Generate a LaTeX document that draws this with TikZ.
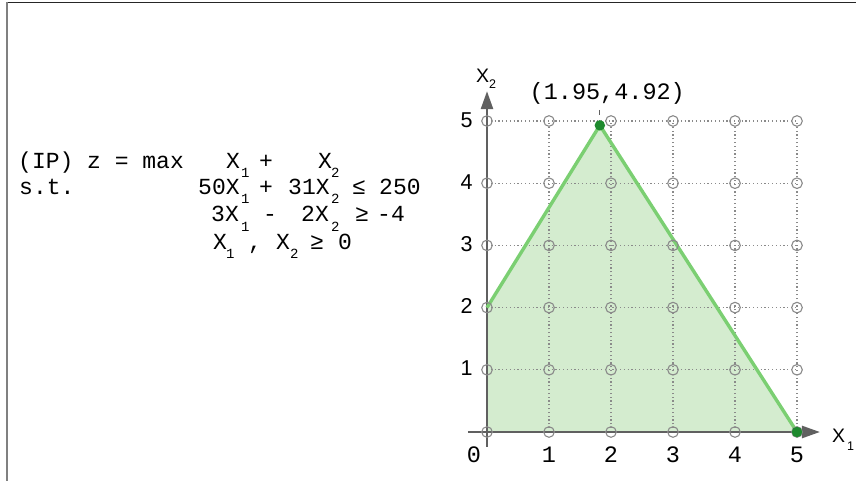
\documentclass[tikz,border=0pt]{standalone}
\usepackage{fontspec}
\setmainfont{Liberation Sans}
\newfontfamily\monof{Liberation Mono}
\usetikzlibrary{arrows.meta}
\definecolor{axisgray}{HTML}{606060}
\definecolor{gridgray}{HTML}{8A8A8A}
\definecolor{regionfill}{HTML}{D4ECCF}
\definecolor{regionline}{HTML}{7BCF72}
\definecolor{dotgreen}{HTML}{1E8A2E}
\begin{document}
\begin{tikzpicture}[x=1pt,y=-1pt,
  txt/.style={inner sep=0pt,anchor=base west,font=\monof\fontsize{23}{23}\selectfont},
  subs/.style={inner sep=0pt,anchor=base west,font=\monof\fontsize{14}{14}\selectfont},
  ylab/.style={inner sep=0pt,anchor=center,font=\fontsize{21.5}{21.5}\selectfont},
  xlab/.style={inner sep=0pt,anchor=center,font=\monof\fontsize{23.5}{23.5}\selectfont},
  axlab/.style={inner sep=0pt,anchor=base west,font=\fontsize{19.5}{19.5}\selectfont},
  axsub/.style={inner sep=0pt,anchor=base west,font=\fontsize{12.5}{12.5}\selectfont},
  gridline/.style={gridgray,line width=1.1pt,dash pattern=on 1.2pt off 2.6pt},
  axisline/.style={axisgray,line width=2.5pt,-{Triangle[length=18pt,width=12pt]}},
  gpt/.style={gridgray,line width=1.1pt},
  solpt/.style={circle,fill=dotgreen,inner sep=0pt,minimum size=10.5pt}]
\useasboundingbox (0,0) rectangle (856,481);
% frame
\draw[black!85,line width=1.6pt] (6,2.5) -- (856,2.5);
\draw[gray,line width=1.7pt] (6.8,2) -- (6.8,481);
% formulation
\node[txt] (ip) at (18,169) {(IP) z = max};
\node[txt] (st) at (19,195) {s.t.};
\node[txt] (a1) at (226,169) {X};
\node[subs] (a1s) at (241,178) {1};
\node[txt] (a2) at (259,169) {+};
\node[txt] (a3) at (318,169) {X};
\node[subs] (a3s) at (331,178) {2};
\node[txt] (b1) at (198,195) {50X};
\node[subs] (b1s) at (241,204) {1};
\node[txt] (b2) at (259,195) {+};
\node[txt] (b3) at (288,195) {31X};
\node[subs] (b3s) at (331,204) {2};
\node[txt] (b4) at (352,195) {≤};
\node[txt] (b5) at (379,195) {250};
\node[txt] (c1) at (211,222) {3X};
\node[subs] (c1s) at (241,231) {1};
\node[txt] (c2) at (263,222) {-};
\node[txt] (c3) at (301,222) {2X};
\node[subs] (c3s) at (331,231) {2};
\node[txt] (c4) at (355,222) {≥};
\node[txt] (c5) at (377,222) {-4};
\node[txt] (d1) at (213,249) {X};
\node[subs] (d1s) at (226,258) {1};
\node[txt] (d2) at (248,249) {,};
\node[txt] (d3) at (276,249) {X};
\node[subs] (d3s) at (290,258) {2};
\node[txt] (d4) at (310,249) {≥};
\node[txt] (d5) at (338,249) {0};
% graph
\begin{scope}[shift={(487,432)},x=62pt,y=62.2pt]
  \fill[regionfill] (0,0) -- (0,2) -- (1.82,4.93) -- (5,0) -- cycle;
  \foreach \i in {1,...,5} {
    \draw[gridline] (\i,0) -- (\i,5);
    \draw[gridline] (0,\i) -- (5,\i);
  }
  \draw[axisline] (-0.31,0) -- (5.37,0);
  \draw[axisline] (0,-0.24) -- (0,5.48);
  \draw[regionline,line width=3.4pt,line join=miter] (0,2) -- (1.82,4.93) -- (5,0);
  \foreach \i in {0,...,5} {
    \foreach \j in {0,...,5} {
      \draw[gpt] (\i,\j) circle[radius=5.3pt];
    }
  }
  \node[solpt] (opt) at (1.82,4.93) {};
  \node[solpt] (xint) at (5,0) {};
  \foreach \k in {1,...,5} {
    \node[ylab] (yl\k) at (-0.33,\k+0.02) {\k};
  }
  \node[xlab] (xl0) at (-0.21,-0.37) {0};
  \foreach \k in {1,...,5} {
    \node[xlab] (xl\k) at (\k,-0.37) {\k};
  }
  \node[inner sep=0pt,font=\monof\fontsize{23.5}{23.5}\selectfont] (optlab) at (1.94,5.44) {(1.95,4.92)};
  \draw[axisgray,line width=0.9pt] ([yshift=-5pt]optlab.south -| opt) -- ([yshift=5pt]opt.north);
\end{scope}
\node[axlab] (x2lab) at (476,83) {X};
\node[axsub] (x2sub) at (489,89) {2};
\node[axlab] (x1lab) at (832,442) {X};
\node[axsub] (x1sub) at (847,450) {1};
\end{tikzpicture}
\end{document}
